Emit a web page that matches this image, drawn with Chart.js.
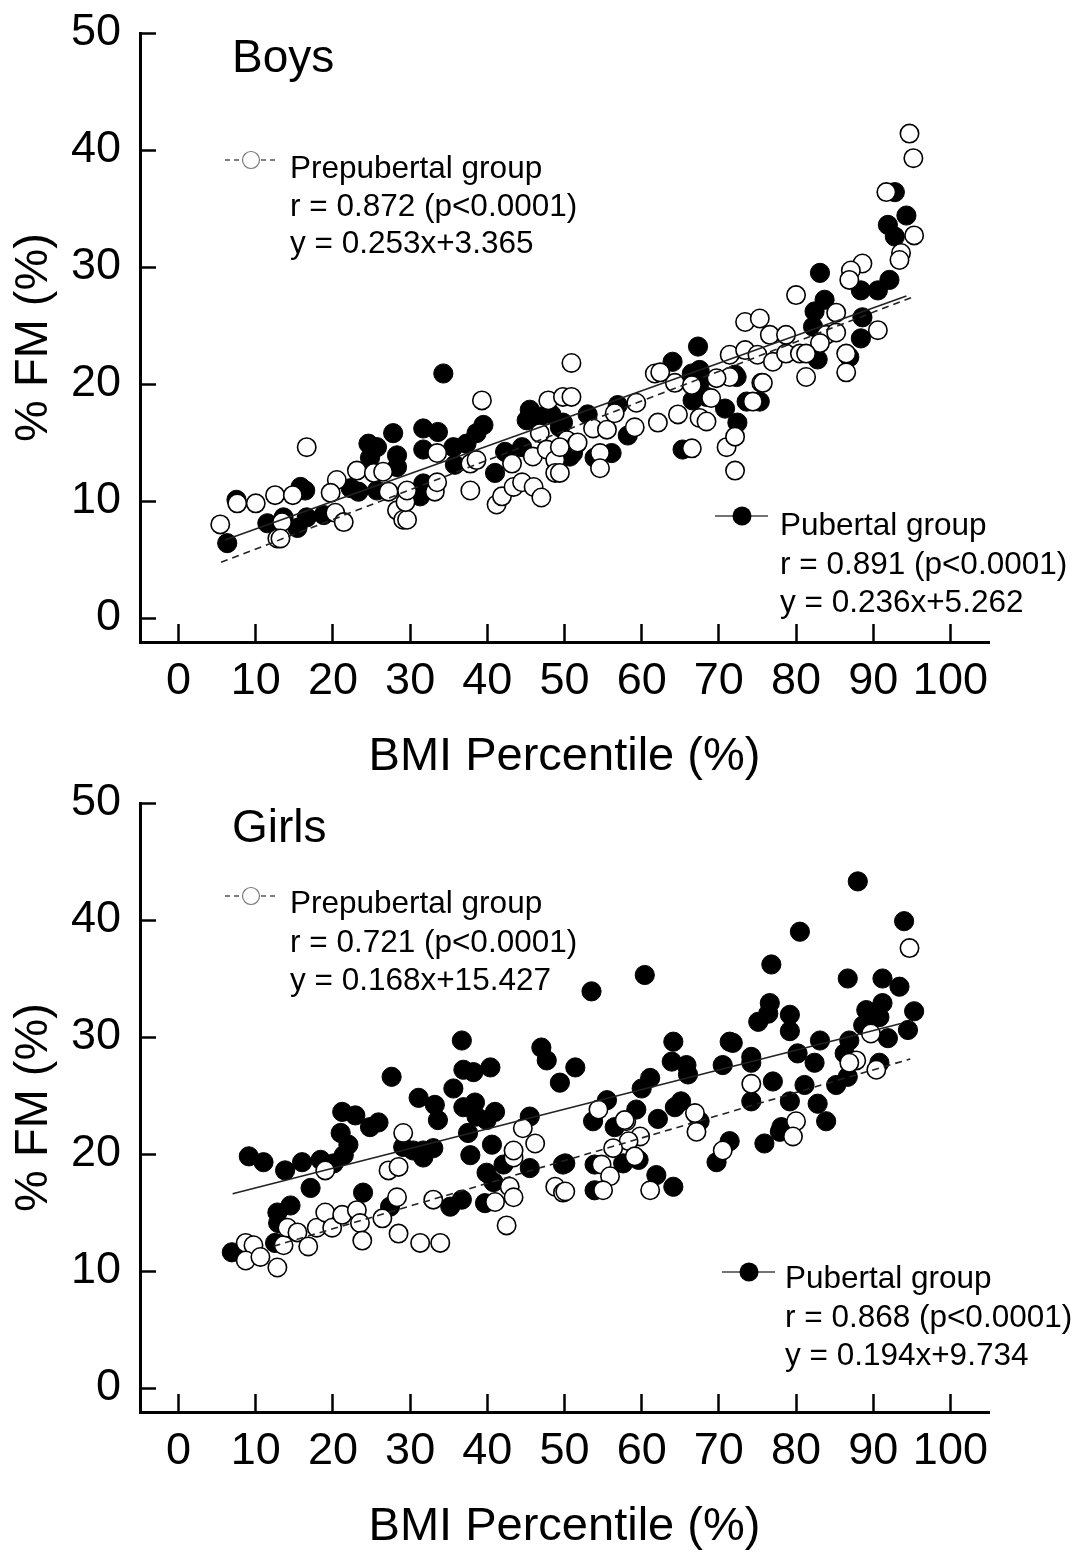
<!DOCTYPE html>
<html>
<head>
<meta charset="utf-8">
<script src="https://cdn.jsdelivr.net/npm/chart.js@4.4.1/dist/chart.umd.min.js"></script>
<style>
html,body{margin:0;padding:0;background:#fff;}
#wrap{position:relative;width:1077px;height:1556px;overflow:hidden;background:#fff;}
canvas{position:absolute;left:0;}
#c1{top:0;}
#c2{top:770px;}
</style>
</head>
<body>
<div id="wrap">
<canvas id="c1" width="1077" height="786"></canvas>
<canvas id="c2" width="1077" height="786"></canvas>
</div>
<script>
// ---------- tick labels ----------
const xTickValues = [0,10,20,30,40,50,60,70,80,90,100];
const yTickValues = [0,10,20,30,40,50];
const xAxisTitle = 'BMI Percentile (%)';
const yAxisTitle = '% FM (%)';

// ---------- Boys ----------
const boysPrepubertal = [
[5.4,8.0],[7.6,9.8],[10,9.8],[12.5,10.5],[14.8,10.5],[13.4,8.2],[12.8,6.8],[13.2,6.8],[20.3,9.0],[21.4,8.2],
[20.5,11.8],[19.7,10.7],[16.6,14.6],[23.1,12.6],[25.3,12.4],[26.5,12.5],[27.2,10.8],[28.3,9.2],[29.1,8.4],[29.6,8.4],
[29.4,9.9],[29.6,10.9],[33.2,10.8],[33.5,11.6],[33.5,14.1],[37.8,10.9],[37.8,13.2],[38.6,13.5],[39.3,18.6],[41.2,9.7],
[41.9,10.4],[43.2,13.2],[43.4,11.2],[44.5,11.6],[46.0,11.2],[47.0,10.3],[45.9,13.8],[46.8,15.8],[47.9,18.6],[49.8,18.9],
[50.9,21.8],[47.7,14.4],[48.8,13.5],[48.8,12.4],[50.3,15.2],[51.6,14.9],[50.9,18.9],[53.7,16.2],[49.4,14.6],[49.4,12.4],
[51.7,15.0],[54.6,14.1],[54.6,12.8],[55.5,16.1],[56.5,17.5],[59.3,18.4],[59.1,16.3],[62.1,16.7],[61.7,20.9],[64.3,20.1],
[64.7,17.4],[67.5,17.1],[68.4,16.8],[69.0,18.8],[71.4,20.6],[75.5,20.1],[74.4,18.5],[66.5,14.5],[71.0,14.6],[72.1,15.5],
[72.1,12.6],[62.4,21.0],[66.5,19.9],[69.7,20.5],[73.4,25.3],[75.3,25.6],[76.6,24.2],[78.7,24.2],[71.4,22.5],[73.4,22.9],
[75.0,22.5],[77.0,21.9],[78.7,22.6],[80.5,22.6],[80.0,27.6],[85.2,26.1],[83.9,24.2],[85.2,24.4],[86.5,22.6],[86.5,21.0],
[83.1,23.5],[81.3,22.6],[81.3,20.6],[90.6,24.6],[88.6,30.3],[87.1,29.7],[86.9,28.9],[91.7,36.4],[94.7,41.4],[95.2,39.3],
[95.3,32.7],[93.6,31.2],[93.4,30.6],[75.7,20.1]
];
const boysPubertal = [
[6.3,6.4],[7.5,10.1],[15.8,11.2],[16.4,10.9],[11.5,8.1],[13.6,8.6],[15.4,7.7],[16.6,8.6],[18.8,8.8],[22.3,11.1],
[23.3,10.8],[24.6,14.9],[25.7,14.6],[24.8,13.7],[25.7,10.9],[27.8,15.8],[28.3,13.9],[28.3,12.9],[31.7,16.2],[33.6,15.9],
[31.7,14.4],[31.3,10.4],[31.7,11.5],[34.3,20.9],[35.6,14.6],[35.8,13.1],[37.3,14.9],[38.6,15.8],[39.5,16.5],[41.0,12.4],
[42.3,14.2],[44.5,14.6],[45.5,17.8],[46.8,17.2],[45.1,16.9],[48.3,17.4],[49.8,16.7],[51.1,14.1],[53.0,17.4],[49.4,16.3],
[50.7,13.8],[53.9,13.7],[56.1,14.1],[56.9,18.2],[58.2,15.6],[64.0,21.9],[67.3,23.2],[66.5,20.9],[67.5,21.2],[67.5,20.1],
[66.6,18.6],[68.4,18.9],[70.8,17.9],[72.4,16.7],[72.3,20.6],[75.3,18.5],[65.3,14.4],[72.1,20.8],[73.6,18.5],[83.1,29.5],
[83.7,27.2],[82.4,26.2],[82.2,24.9],[88.6,25.7],[88.4,23.9],[86.9,22.3],[82.8,22.1],[88.4,28.0],[90.6,28.0],[92.1,28.9],
[91.9,33.6],[92.8,32.6],[94.3,34.4],[92.8,36.4]
];
// fit lines: [slope, intercept, xStart, xEnd]
const boysDashedFit = [0.253, 3.365, 5.5, 94.9];
const boysSolidFit = [0.236, 5.262, 6.0, 94.3];
const boysTitle = 'Boys';
const boysLegendTop = ['Prepubertal group', 'r = 0.872 (p<0.0001)', 'y = 0.253x+3.365'];
const boysLegendBottom = ['Pubertal group', 'r = 0.891 (p<0.0001)', 'y = 0.236x+5.262'];

// ---------- Girls ----------
const girlsPrepubertal = [
[8.7,12.4],[9.7,12.2],[8.7,10.9],[10.6,11.2],[12.8,10.3],[13.6,12.2],[14.1,13.7],[15.4,13.3],[16.8,12.1],[17.9,13.7],
[19.0,15.0],[19.9,13.7],[21.2,14.8],[19.0,18.6],[23.1,15.2],[23.5,14.1],[23.8,12.6],[26.4,14.5],[27.2,18.6],[28.5,18.9],
[28.3,16.3],[28.5,13.2],[29.1,21.8],[31.3,12.4],[33.9,12.4],[33.0,16.1],[41.0,15.9],[42.5,13.9],[42.9,17.2],[43.4,16.3],
[43.4,19.7],[43.4,20.3],[44.6,22.2],[46.2,20.9],[48.8,17.2],[49.8,16.7],[50.1,16.8],[54.4,23.8],[58.0,22.8],[57.8,22.9],
[59.8,21.5],[58.3,21.1],[56.3,20.5],[59.1,19.8],[54.8,19.1],[55.9,18.1],[55.0,16.9],[61.1,16.9],[66.9,23.5],[67.1,21.9],
[70.5,20.3],[74.2,26.0],[80.0,22.8],[79.6,21.5],[87.8,28.0],[86.9,27.8],[89.7,30.3],[90.4,27.2],[94.7,37.6]
];
const girlsPubertal = [
[6.9,11.6],[9.1,19.8],[11.0,19.3],[12.5,12.4],[12.8,15.0],[14.5,15.6],[12.9,14.1],[13.8,18.6],[16.0,19.3],[17.1,17.1],
[18.4,19.5],[20.1,19.2],[21.0,21.8],[22.0,20.8],[21.4,19.9],[21.2,23.6],[22.9,23.3],[24.8,22.3],[25.9,22.7],[23.9,16.7],
[27.4,15.5],[27.6,26.6],[29.1,20.6],[30.4,20.3],[31.7,20.3],[33.0,20.5],[31.7,19.7],[31.1,24.8],[33.2,24.2],[33.6,22.9],
[35.6,25.6],[36.7,29.7],[36.9,27.2],[38.2,27.0],[40.4,27.4],[36.9,24.0],[38.4,24.4],[38.6,23.2],[41.0,23.6],[39.9,22.9],
[37.5,21.8],[37.8,19.9],[40.6,20.8],[39.9,18.4],[40.8,17.6],[39.7,15.8],[35.2,15.5],[36.7,16.1],[42.1,19.1],[45.5,18.8],
[45.5,23.2],[47.0,29.1],[47.7,28.0],[49.4,26.1],[51.4,27.4],[50.1,19.2],[49.8,19.1],[53.5,33.9],[53.9,19.1],[53.9,16.9],
[53.7,22.8],[55.5,24.6],[56.5,22.3],[57.6,19.2],[59.6,19.5],[59.3,23.8],[60.0,25.6],[61.1,26.5],[60.4,35.3],[62.1,23.0],
[61.9,18.2],[64.1,17.2],[64.1,29.6],[63.9,27.9],[65.8,27.6],[66.0,26.8],[64.3,24.0],[65.1,24.5],[67.5,22.8],[69.7,19.3],
[71.4,21.1],[70.5,27.6],[71.4,29.6],[71.8,29.5],[74.2,28.3],[74.2,27.8],[74.2,24.5],[75.9,20.9],[77.9,21.9],[78.1,22.3],
[77.0,26.2],[75.1,31.3],[76.4,32.0],[76.6,32.9],[76.8,36.2],[79.2,31.9],[79.2,30.5],[79.2,24.5],[80.2,28.6],[80.5,39.0],
[81.1,25.9],[82.4,27.8],[82.8,24.3],[83.9,22.8],[83.1,29.7],[85.2,25.9],[86.3,28.6],[86.7,26.6],[86.9,29.7],[86.7,35.0],
[88.0,43.3],[88.7,31.0],[89.1,32.3],[90.8,31.7],[91.2,32.9],[91.2,35.0],[90.8,27.8],[91.9,29.9],[93.4,34.3],[94.5,30.6],
[95.3,32.2],[94.0,39.9]
];
const girlsDashedFit = [0.194, 9.734, 12.3, 94.8];
const girlsSolidFit = [0.168, 15.427, 7.0, 93.6];
const girlsTitle = 'Girls';
const girlsLegendTop = ['Prepubertal group', 'r = 0.721 (p<0.0001)', 'y = 0.168x+15.427'];
const girlsLegendBottom = ['Pubertal group', 'r = 0.868 (p<0.0001)', 'y = 0.194x+9.734'];

// ---------- drawing ----------
const FAMILY = '"Liberation Sans", Arial, Helvetica, sans-serif';

function fitPoints(f) {
  return [{x: f[2], y: f[0]*f[2] + f[1]}, {x: f[3], y: f[0]*f[3] + f[1]}];
}
function toPts(arr) { return arr.map(p => ({x: p[0], y: p[1]})); }

function annotationPlugin(title, legTop, legBottom, lay) {
  return {
    id: 'annot',
    afterDraw(chart) {
      const ctx = chart.ctx;
      ctx.save();
      ctx.fillStyle = '#000';
      ctx.textAlign = 'left';
      ctx.textBaseline = 'alphabetic';
      ctx.font = '46px ' + FAMILY;
      ctx.fillText(title, 232, 72);

      // legend 1 (prepubertal, dashed + open circle)
      ctx.strokeStyle = '#555';
      ctx.lineWidth = 1.3;
      ctx.setLineDash([5, 4]);
      ctx.beginPath();
      ctx.moveTo(225, lay.l1y); ctx.lineTo(277, lay.l1y);
      ctx.stroke();
      ctx.setLineDash([]);
      ctx.beginPath();
      ctx.arc(251, lay.l1y, 8.5, 0, Math.PI*2);
      ctx.fillStyle = '#fff'; ctx.fill();
      ctx.strokeStyle = '#777'; ctx.lineWidth = 1.2; ctx.stroke();
      ctx.fillStyle = '#000';
      ctx.font = '31.5px ' + FAMILY;
      legTop.forEach((t, i) => ctx.fillText(t, 290, lay.t1[i]));

      // legend 2 (pubertal, solid + filled circle)
      ctx.strokeStyle = '#444';
      ctx.lineWidth = 1.5;
      ctx.beginPath();
      ctx.moveTo(lay.l2x0, lay.l2y); ctx.lineTo(lay.l2x0 + 53, lay.l2y);
      ctx.stroke();
      ctx.beginPath();
      ctx.arc(lay.l2x0 + 27, lay.l2y, 9.5, 0, Math.PI*2);
      ctx.fillStyle = '#000'; ctx.fill();
      legBottom.forEach((t, i) => ctx.fillText(t, lay.t2x, lay.t2[i]));
      ctx.restore();
    }
  };
}

function makeChart(id, pre, pub, dashedFit, solidFit, plugin) {
  return new Chart(document.getElementById(id), {
    type: 'scatter',
    data: {
      datasets: [
        {type: 'line', data: fitPoints(dashedFit), borderColor: '#222', borderWidth: 1.6,
         borderDash: [7, 5], pointRadius: 0, fill: false, order: 0},
        {type: 'line', data: fitPoints(solidFit), borderColor: '#222', borderWidth: 1.6,
         pointRadius: 0, fill: false, order: 1},
        {data: toPts(pre), backgroundColor: '#fff', borderColor: '#000', borderWidth: 1.6,
         pointRadius: 9.2, pointHoverRadius: 9.2, order: 2},
        {data: toPts(pub), backgroundColor: '#000', borderColor: '#000', borderWidth: 1,
         pointRadius: 9.6, pointHoverRadius: 9.6, order: 3}
      ]
    },
    options: {
      responsive: false,
      animation: false,
      devicePixelRatio: 1,
      events: [],
      layout: {padding: {top: 33, right: 88, bottom: 0, left: 0}},
      plugins: {legend: {display: false}, tooltip: {enabled: false}},
      scales: {
        x: {
          type: 'linear', min: -5, max: 105,
          afterBuildTicks: s => { s.ticks = xTickValues.map(v => ({value: v})); },
          afterFit: s => { s.height = 144; s.paddingLeft = 0; s.paddingRight = 0; },
          grid: {drawOnChartArea: false, drawTicks: true, tickLength: -18, tickWidth: 2.5, tickColor: '#000'},
          border: {display: true, color: '#000', width: 3},
          ticks: {autoSkip: false, maxRotation: 0, minRotation: 0, padding: 31, color: '#000',
                  font: {size: 45, family: FAMILY}},
          title: {display: true, text: xAxisTitle, color: '#000', font: {size: 47, family: FAMILY},
                  padding: {top: 0, bottom: 1}}
        },
        y: {
          type: 'linear', min: -2.05, max: 50,
          afterBuildTicks: s => { s.ticks = yTickValues.map(v => ({value: v})); },
          afterFit: s => { s.width = 140; s.paddingTop = 0; s.paddingBottom = 0; },
          grid: {drawOnChartArea: false, drawTicks: true, tickLength: -16, tickWidth: 2.5, tickColor: '#000'},
          border: {display: true, color: '#000', width: 3},
          ticks: {padding: 35, color: '#000', font: {size: 45, family: FAMILY}},
          title: {display: true, text: yAxisTitle, color: '#000', font: {size: 47, family: FAMILY},
                  padding: {top: 6, bottom: 0}}
        }
      }
    },
    plugins: [plugin]
  });
}

makeChart('c1', boysPrepubertal, boysPubertal, boysDashedFit, boysSolidFit,
  annotationPlugin(boysTitle, boysLegendTop, boysLegendBottom,
    {l1y: 160, t1: [178, 216, 253], l2x0: 715, l2y: 516, t2x: 780, t2: [535, 574, 612]}));

makeChart('c2', girlsPrepubertal, girlsPubertal, girlsDashedFit, girlsSolidFit,
  annotationPlugin(girlsTitle, girlsLegendTop, girlsLegendBottom,
    {l1y: 126, t1: [143, 182, 220], l2x0: 722, l2y: 502, t2x: 785, t2: [518, 557, 595]}));
</script>
</body>
</html>
